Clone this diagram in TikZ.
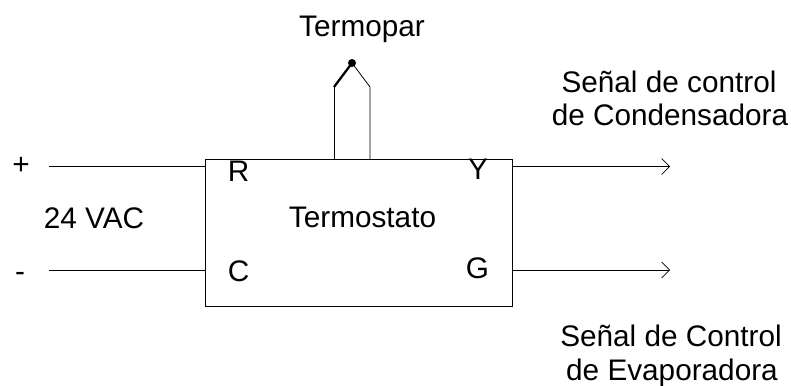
\documentclass[tikz,border=0pt]{standalone}
\usepackage{fontspec}
\setmainfont{Liberation Sans}
\usetikzlibrary{arrows.meta}
\tikzset{
  wire/.style={draw=black,line width=0.75pt},
  signal/.style={wire,-{Straight Barb[length=6pt,width=12pt,line width=0.5pt]}},
  tag/.style={anchor=base,inner sep=0pt,font=\fontsize{22.3}{26}\selectfont,align=center},
}
\begin{document}
\begin{tikzpicture}[x=0.75pt,y=0.75pt,yscale=-1,xscale=1]
\useasboundingbox (0,0) rectangle (791,385);

%Box
\node (box) at (358.5,232.5) [draw,line width=0.75pt,minimum width=230.25pt,minimum height=110.25pt,inner sep=0pt] {};

%Free ends of the wires
\coordinate (plus) at (49,166.5);
\coordinate (minus) at (49,270);
\coordinate (r) at (box.west |- plus);
\coordinate (c) at (box.west |- minus);
\coordinate (y) at (box.east |- plus);
\coordinate (g) at (box.east |- minus);
\coordinate (yout) at (670,166.5);
\coordinate (gout) at (670,270);

%Wires
\draw [wire] (plus) -- (r);
\draw [wire] (minus) -- (c);
\draw [signal] (y) -- (yout);
\draw [signal] (g) -- (gout);

%Thermocouple
\coordinate (tl) at (334,159);
\coordinate (tr) at (370,159);
\coordinate (tlup) at (334,87);
\coordinate (trup) at (370,87);
\coordinate (tip) at (352,63);
\draw [wire,line width=0.6pt] (tl) -- (tlup);
\draw [wire,line width=0.6pt] (tr) -- (trup) -- (tip);
\draw [wire,line width=1.7pt] (tlup) -- (tip);
\fill (tip) circle [radius=4];

% Text Node
\node (termopar) at (362,37) [tag] {Termopar};
\node (control) at (669,92) [tag] {Señal de control};
\node (condens) at (670,125) [tag] {de Condensadora};
\node (plussign) at (21,174) [tag] {+};
\node (vac) at (94,228) [tag] {24 VAC};
\node (minussign) at (20,281) [tag] {-};
\node (rl) at (238.5,181) [tag] {R};
\node (cl) at (238.5,281) [tag] {C};
\node (yl) at (478,179) [tag] {Y};
\node (gl) at (477.5,278) [tag] {G};
\node (center) at (362.5,227) [tag] {Termostato};
\node (senal) at (671,346.5) [tag] {Señal de Control};
\node (evap) at (672,380.5) [tag] {de Evaporadora};
\end{tikzpicture}
\end{document}
